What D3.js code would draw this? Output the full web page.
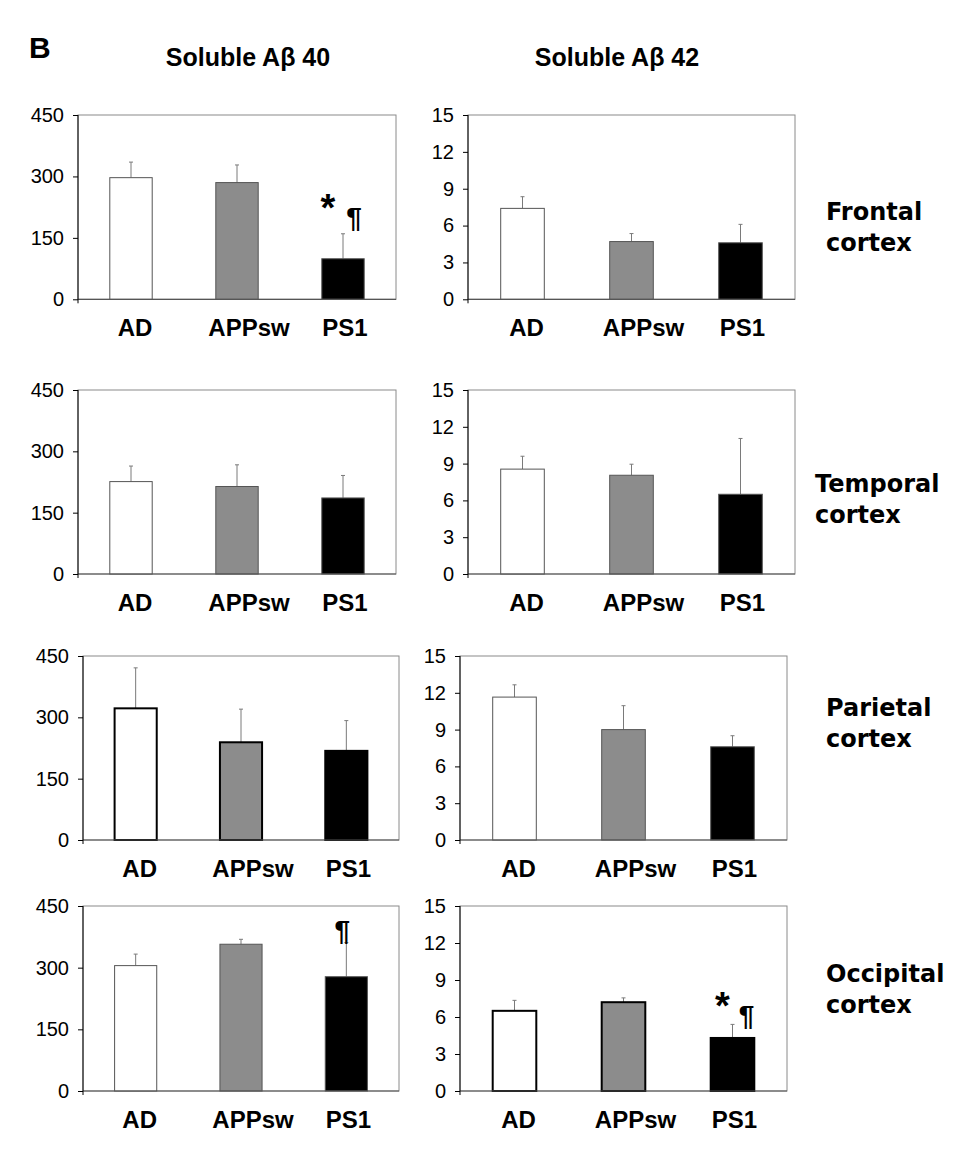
<!DOCTYPE html>
<html>
<head>
<meta charset="utf-8">
<script src="https://cdn.jsdelivr.net/npm/d3@7"></script>
<style>
  body { margin: 0; background: #fff; }
  svg { display: block; }
</style>
</head>
<body>
<svg width="970" height="1156"></svg>
<script>
// groups and panels
const groups = ["AD", "APPsw", "PS1"];
const peptides = ["Soluble A\u03b2 40", "Soluble A\u03b2 42"];
const regions = [["Frontal", "cortex"], ["Temporal", "cortex"], ["Parietal", "cortex"], ["Occipital", "cortex"]];
const ab40Ticks = [0, 150, 300, 450];
const ab42Ticks = [0, 3, 6, 9, 12, 15];

// means (rows = regions, cols = groups)
const ab40Mean = [[297, 285, 99], [226, 214, 186], [322, 239, 218], [305, 357, 278]];
const ab40Err = [[38, 43, 61], [38, 53, 55], [99, 81, 74], [28, 12, 83]];
const ab42Mean = [[7.4, 4.7, 4.6], [8.55, 8.05, 6.5], [11.65, 9.0, 7.6], [6.5, 7.2, 4.3]];
const ab42Err = [[0.95, 0.65, 1.5], [1.05, 0.9, 4.55], [1.0, 1.95, 0.9], [0.85, 0.35, 1.1]];

// significance marks: region, peptide, group, symbol
const sigMarks = [
  [0, 0, "PS1", "*"], [0, 0, "PS1", "\u00b6"],
  [3, 0, "PS1", "\u00b6"],
  [3, 1, "PS1", "*"], [3, 1, "PS1", "\u00b6"]
];

const barFill = { AD: "#ffffff", APPsw: "#8c8c8c", PS1: "#000000" };

const svg = d3.select("svg");
const font = "'Liberation Sans', Arial, sans-serif";

// layout of the 4x2 panels
const rowY = [[115, 299.3], [390, 574], [656, 840], [906, 1091]];
const colX = [
  [[78, 396], [468, 795]],
  [[78, 396], [468, 795]],
  [[83, 399], [460, 787]],
  [[83, 399], [460, 787]]
];
const thickBorder = { "2-0": true, "3-1": true };
const labelShift = [4, 12, 2];
const markOffset = {
  "0-0-*": [-15, -13], "0-0-\u00b6": [11, -7],
  "3-0-\u00b6": [-4, -3],
  "3-1-*": [-10, -5], "3-1-\u00b6": [14, 1]
};

svg.append("text").attr("x", 29).attr("y", 58)
  .attr("font-family", font).attr("font-weight", "bold").attr("font-size", 30)
  .text("B");

[248, 617].forEach((cx, i) => {
  svg.append("text").attr("x", cx).attr("y", 66)
    .attr("text-anchor", "middle")
    .attr("font-family", font).attr("font-weight", "bold").attr("font-size", 25)
    .text(peptides[i]);
});

const regionX = [826, 815, 826, 826];
const regionY = [220, 492, 716, 982];
regions.forEach((lines, r) => {
  const t = svg.append("text").attr("x", regionX[r]).attr("y", regionY[r])
    .attr("font-family", "'DejaVu Sans', Verdana, sans-serif")
    .attr("font-weight", "bold").attr("font-size", 24);
  lines.forEach((ln, k) => {
    t.append("tspan").attr("x", regionX[r]).attr("dy", k === 0 ? 0 : 31).text(ln);
  });
});

regions.forEach((_, r) => {
  [0, 1].forEach(c => {
    const means = c === 0 ? ab40Mean[r] : ab42Mean[r];
    const errs = c === 0 ? ab40Err[r] : ab42Err[r];
    const ticks = c === 0 ? ab40Ticks : ab42Ticks;
    const [x0, x1] = colX[r][c];
    const [y0, y1] = rowY[r];

    const x = d3.scaleBand().domain(groups).range([x0, x1])
      .paddingInner(0.6).paddingOuter(0.3);
    const y = d3.scaleLinear().domain([0, d3.max(ticks)]).range([y1, y0]);

    const g = svg.append("g");

    // plot frame
    g.append("rect").attr("x", x0).attr("y", y0)
      .attr("width", x1 - x0).attr("height", y1 - y0)
      .attr("fill", "none").attr("stroke", "#8a8a8a").attr("stroke-width", 1);

    const data = groups.map((k, i) => ({ key: k, v: means[i], e: errs[i] }));
    const thick = thickBorder[r + "-" + c];

    // error bars (upper only)
    const eb = g.selectAll(".eb").data(data).enter().append("g").attr("class", "eb");
    eb.append("line")
      .attr("x1", d => x(d.key) + x.bandwidth() / 2).attr("x2", d => x(d.key) + x.bandwidth() / 2)
      .attr("y1", d => y(d.v)).attr("y2", d => y(d.v + d.e))
      .attr("stroke", "#7a7a7a").attr("stroke-width", 1);
    eb.append("line")
      .attr("x1", d => x(d.key) + x.bandwidth() / 2 - 2).attr("x2", d => x(d.key) + x.bandwidth() / 2 + 2)
      .attr("y1", d => y(d.v + d.e)).attr("y2", d => y(d.v + d.e))
      .attr("stroke", "#7a7a7a").attr("stroke-width", 1);

    g.selectAll(".bar").data(data).enter().append("rect").attr("class", "bar")
      .attr("x", d => x(d.key)).attr("width", x.bandwidth())
      .attr("y", d => y(d.v)).attr("height", d => y(0) - y(d.v))
      .attr("fill", d => barFill[d.key])
      .attr("stroke", thick ? "#000" : "#555")
      .attr("stroke-width", thick ? 2 : 1);

    // x axis line
    g.append("line").attr("x1", x0).attr("x2", x1).attr("y1", y1).attr("y2", y1)
      .attr("stroke", "#555").attr("stroke-width", 1.2);

    // y axis
    const ya = g.append("g").attr("transform", `translate(${x0},0)`)
      .call(d3.axisLeft(y).tickValues(ticks).tickSize(5).tickPadding(9).tickSizeOuter(0));
    ya.select(".domain").attr("stroke", "#000").attr("d", `M0,${y0}V${y1 + 4}`);
    ya.selectAll(".tick line").attr("stroke", "#000");
    ya.selectAll(".tick text").attr("font-family", font).attr("font-size", 20).attr("fill", "#000");

    // category labels
    const xa = g.append("g").attr("transform", `translate(0,${y1})`)
      .call(d3.axisBottom(x).tickSize(0));
    xa.select(".domain").remove();
    xa.selectAll(".tick text")
      .attr("x", (d, i) => labelShift[i])
      .attr("y", 37).attr("dy", 0)
      .attr("font-family", font).attr("font-weight", "bold").attr("font-size", 24)
      .attr("fill", "#000");

    // significance symbols
    sigMarks.filter(m => m[0] === r && m[1] === c).forEach(m => {
      const d = data.find(e => e.key === m[2]);
      const off = markOffset[r + "-" + c + "-" + m[3]];
      g.append("text")
        .attr("x", x(d.key) + x.bandwidth() / 2 + off[0])
        .attr("y", y(d.v + d.e) + off[1])
        .attr("text-anchor", "middle")
        .attr("font-family", font).attr("font-weight", "bold")
        .attr("font-size", m[3] === "*" ? 38 : 28)
        .text(m[3]);
    });
  });
});
</script>
</body>
</html>
